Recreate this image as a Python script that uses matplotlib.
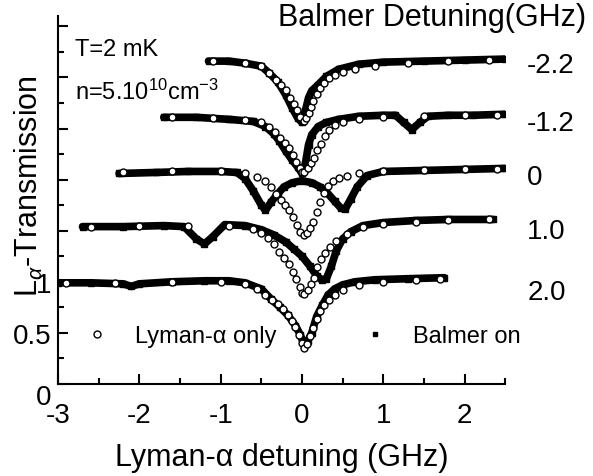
import matplotlib
matplotlib.use("Agg")
import matplotlib.pyplot as plt
from matplotlib import transforms

plt.rcParams['font.family'] = ['Liberation Sans', 'DejaVu Sans']
plt.rcParams['mathtext.fontset'] = 'custom'
plt.rcParams['mathtext.rm'] = 'Liberation Sans'
plt.rcParams['mathtext.it'] = 'Liberation Sans:italic'
plt.rcParams['axes.unicode_minus'] = False

# Balmer detuning labels (GHz), top to bottom
balmer_labels = ['-2.2', '-1.2', '0', '1.0', '2.0']
label_y = [3.12, 2.55, 2.03, 1.50, 0.90]

# ---- Balmer -2.2 ----
xb1 = [-1.15, -0.9, -0.7, -0.5, -0.4, -0.3, -0.2, -0.12, -0.05, 0.0, 0.04, 0.08, 0.12, 0.2, 0.3, 0.45, 0.7, 1.0, 1.5, 2.0, 2.5]
yb1 = [3.16, 3.16, 3.14, 3.11, 3.04, 2.96, 2.83, 2.70, 2.60, 2.56, 2.67, 2.80, 2.87, 2.93, 3.01, 3.08, 3.13, 3.15, 3.16, 3.17, 3.18]
xl1 = [-1.1, -0.7, -0.5, -0.4, -0.32, -0.26, -0.2, -0.15, -0.1, -0.06, -0.02, 0.02, 0.05, 0.08, 0.11, 0.14, 0.18, 0.22, 0.27, 0.33, 0.4, 0.5, 0.65, 0.9, 1.3, 1.8, 2.3]
yl1 = [3.16, 3.14, 3.11, 3.04, 2.98, 2.93, 2.88, 2.80, 2.74, 2.68, 2.61, 2.57, 2.60, 2.65, 2.71, 2.77, 2.84, 2.90, 2.95, 2.99, 3.02, 3.05, 3.08, 3.11, 3.14, 3.16, 3.17]

# ---- Balmer -1.2 ----
xb2 = [-1.7, -1.3, -0.9, -0.6, -0.45, -0.35, -0.28, -0.2, -0.12, -0.05, 0.0, 0.04, 0.08, 0.12, 0.2, 0.3, 0.45, 0.7, 1.0, 1.15, 1.25, 1.35, 1.45, 1.55, 1.8, 2.1, 2.5]
yb2 = [2.61, 2.61, 2.59, 2.57, 2.52, 2.45, 2.38, 2.28, 2.19, 2.12, 2.06, 2.15, 2.34, 2.44, 2.52, 2.56, 2.59, 2.62, 2.63, 2.63, 2.56, 2.49, 2.56, 2.62, 2.63, 2.63, 2.64]
xl2 = [-1.6, -1.1, -0.7, -0.5, -0.4, -0.33, -0.27, -0.21, -0.16, -0.11, -0.07, -0.03, 0.0, 0.03, 0.07, 0.11, 0.15, 0.19, 0.23, 0.28, 0.33, 0.4, 0.5, 0.7, 1.0, 1.5, 2.0, 2.4]
yl2 = [2.61, 2.60, 2.58, 2.56, 2.52, 2.47, 2.41, 2.36, 2.31, 2.24, 2.17, 2.11, 2.07, 2.07, 2.11, 2.16, 2.21, 2.29, 2.35, 2.43, 2.49, 2.53, 2.56, 2.59, 2.61, 2.62, 2.63, 2.63]

# ---- Balmer 0 ----
xb3 = [-2.25, -1.8, -1.4, -1.0, -0.8, -0.7, -0.6, -0.5, -0.45, -0.38, -0.3, -0.22, -0.12, 0.0, 0.12, 0.22, 0.3, 0.4, 0.48, 0.53, 0.6, 0.68, 0.8, 1.0, 1.5, 2.0, 2.5]
yb3 = [2.06, 2.07, 2.08, 2.08, 2.07, 2.01, 1.89, 1.75, 1.70, 1.78, 1.86, 1.93, 1.97, 1.99, 1.97, 1.93, 1.88, 1.79, 1.72, 1.71, 1.81, 1.93, 2.04, 2.08, 2.09, 2.10, 2.11]
xl3 = [-2.2, -1.6, -1.0, -0.7, -0.55, -0.45, -0.38, -0.32, -0.26, -0.21, -0.16, -0.11, -0.06, -0.02, 0.02, 0.06, 0.1, 0.14, 0.18, 0.22, 0.27, 0.32, 0.38, 0.45, 0.55, 0.7, 1.0, 1.5, 2.0, 2.4]
yl3 = [2.07, 2.08, 2.08, 2.06, 2.03, 1.99, 1.93, 1.86, 1.80, 1.75, 1.70, 1.63, 1.56, 1.49, 1.46, 1.48, 1.53, 1.59, 1.68, 1.78, 1.87, 1.94, 1.99, 2.02, 2.04, 2.06, 2.08, 2.09, 2.10, 2.10]

# ---- Balmer 1.0 ----
xb4 = [-2.7, -2.2, -1.7, -1.45, -1.3, -1.2, -1.1, -0.95, -0.7, -0.5, -0.35, -0.2, -0.1, 0.0, 0.1, 0.18, 0.24, 0.3, 0.36, 0.42, 0.5, 0.6, 0.75, 1.0, 1.4, 1.8, 2.35]
yb4 = [1.54, 1.54, 1.55, 1.54, 1.42, 1.37, 1.44, 1.56, 1.55, 1.51, 1.46, 1.39, 1.32, 1.25, 1.15, 1.06, 1.02, 1.03, 1.15, 1.30, 1.42, 1.49, 1.55, 1.58, 1.60, 1.61, 1.61]
xl4 = [-2.6, -2.0, -1.4, -0.9, -0.6, -0.5, -0.42, -0.35, -0.28, -0.22, -0.16, -0.11, -0.07, -0.03, 0.0, 0.03, 0.07, 0.11, 0.15, 0.19, 0.23, 0.28, 0.34, 0.42, 0.55, 0.75, 1.0, 1.4, 1.8, 2.3]
yl4 = [1.54, 1.55, 1.55, 1.55, 1.52, 1.48, 1.43, 1.37, 1.29, 1.23, 1.17, 1.10, 1.03, 0.95, 0.89, 0.88, 0.92, 0.98, 1.04, 1.14, 1.22, 1.28, 1.34, 1.40, 1.47, 1.54, 1.57, 1.59, 1.60, 1.61]

# ---- Balmer 2.0 ----
xb5 = [-3.0, -2.6, -2.2, -2.1, -2.0, -1.6, -1.2, -0.9, -0.7, -0.5, -0.38, -0.27, -0.17, -0.08, -0.02, 0.02, 0.07, 0.12, 0.18, 0.25, 0.32, 0.4, 0.5, 0.65, 0.9, 1.3, 1.75]
yb5 = [0.99, 0.99, 0.98, 0.955, 0.98, 1.00, 1.01, 1.01, 0.99, 0.93, 0.83, 0.75, 0.67, 0.57, 0.48, 0.39, 0.42, 0.50, 0.66, 0.77, 0.87, 0.93, 0.97, 1.00, 1.02, 1.03, 1.04]
xl5 = [-2.9, -2.3, -1.6, -1.0, -0.7, -0.55, -0.45, -0.37, -0.3, -0.23, -0.17, -0.12, -0.08, -0.04, 0.0, 0.03, 0.06, 0.1, 0.14, 0.18, 0.22, 0.27, 0.33, 0.4, 0.5, 0.7, 1.0, 1.4, 1.7]
yl5 = [0.99, 0.99, 1.00, 1.00, 0.98, 0.93, 0.87, 0.82, 0.78, 0.73, 0.67, 0.62, 0.56, 0.48, 0.40, 0.35, 0.39, 0.47, 0.55, 0.64, 0.71, 0.77, 0.82, 0.87, 0.92, 0.97, 1.00, 1.02, 1.03]

balmer_x = [xb1, xb2, xb3, xb4, xb5]
balmer_y = [yb1, yb2, yb3, yb4, yb5]
lyman_x = [xl1, xl2, xl3, xl4, xl5]
lyman_y = [yl1, yl2, yl3, yl4, yl5]

fig = plt.figure(figsize=(5.93, 4.77), dpi=100)
ax = fig.add_axes([0.098, 0.193, 0.754, 0.771])

for i in range(5):
    ax.plot(balmer_x[i], balmer_y[i], '-s', color='black', lw=5.5, ms=4,
            solid_capstyle='round', solid_joinstyle='round', zorder=2,
            label='Balmer on' if i == 0 else None)
for i in range(5):
    ax.plot(lyman_x[i], lyman_y[i], 'o', ls='none', mfc='white', mec='black',
            ms=5, mew=1.0, zorder=3, label='Lyman-α only' if i == 0 else None)

ax.set_xlim(-3, 2.5)
ax.set_ylim(0, 3.6)
ax.set_xticks([-3, -2, -1, 0, 1, 2])
ax.set_xticks([-2.5, -1.5, -0.5, 0.5, 1.5, 2.5], minor=True)
yt = [0, 0.5, 1, 1.5, 2, 2.5, 3, 3.5]
ax.set_yticks(yt)
ax.set_yticklabels(['0', '0.5', '1', '', '', '', '', ''])
ax.set_yticks([0.25, 0.75, 1.25, 1.75, 2.25, 2.75, 3.25], minor=True)

for s in ['top', 'right']:
    ax.spines[s].set_visible(False)
for s in ['left', 'bottom']:
    ax.spines[s].set_linewidth(1.5)

ax.tick_params(axis='both', which='major', direction='in', length=7, width=1.5, labelsize=20)
ax.tick_params(axis='both', which='minor', direction='in', length=4, width=1.5)
ax.tick_params(axis='x', which='major', pad=13)
ax.tick_params(axis='y', which='major', pad=5)

# the "0" on the y axis sits a bit low in the original
for lab in ax.get_yticklabels():
    if lab.get_text() == '0':
        lab.set_transform(lab.get_transform() + transforms.ScaledTranslation(0, -10 / 100, fig.dpi_scale_trans))

ax.set_xlabel('Lyman-α detuning (GHz)', fontsize=22, labelpad=10)
ax.set_ylabel(r'L$_{\alpha}$-Transmission', fontsize=22)
ax.yaxis.set_label_coords(-0.03, 0.54)

for lab, y in zip(balmer_labels, label_y):
    ax.text(2.77, y, lab, fontsize=20, va='center', ha='left', clip_on=False)

fig.text(0.469, 0.962, 'Balmer Detuning(GHz)', fontsize=22, va='center', ha='left')
ax.text(-2.79, 3.28, 'T=2 mK', fontsize=17, va='center')
ax.text(-2.79, 2.79, r'n=5.10$^{10}$cm$^{-3}$', fontsize=17, va='baseline')

handles, labels = ax.get_legend_handles_labels()
ax.legend(handles[::-1], labels[::-1], ncol=2, frameon=False, fontsize=17,
          loc='center left', bbox_to_anchor=(0.06, 0.13), borderpad=0, borderaxespad=0,
          handlelength=1.0, handletextpad=1.1, columnspacing=3.7, numpoints=1,
          markerscale=1.0)
leg = ax.get_legend()
leg.legend_handles[1].set_linestyle('none')
leg.legend_handles[1].set_markersize(3)

fig.savefig('out.png', dpi=100)
